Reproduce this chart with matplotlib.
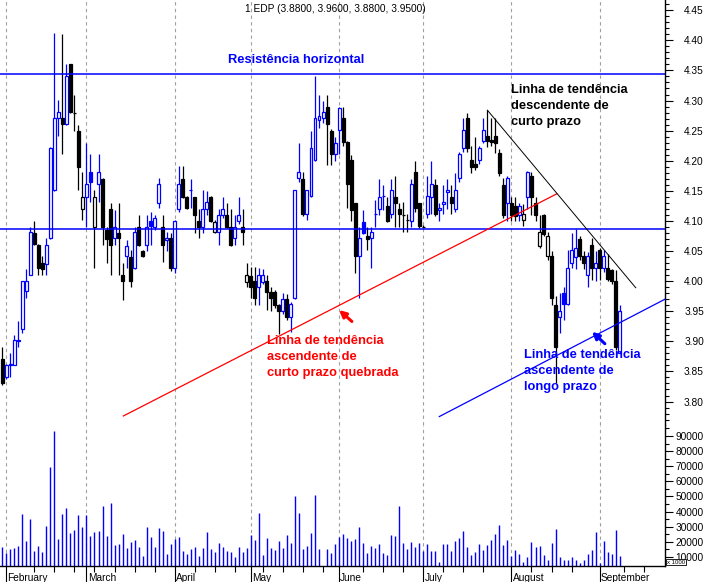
import numpy as np
import matplotlib
matplotlib.use('Agg')
import matplotlib.pyplot as plt
from matplotlib.patches import Rectangle
from matplotlib.ticker import MultipleLocator, FixedLocator

plt.rcParams['font.family'] = ['Liberation Sans', 'DejaVu Sans']

# daily OHLC (trading day index 0..154)
opens = [3.871, 3.840, 3.860, 3.861, 3.901, 3.920, 3.983, 4.011, 4.080, 4.060,
         4.030, 4.029, 4.071, 4.151, 4.271, 4.271, 4.261, 4.360, 4.282, 4.250,
         4.120, 4.140, 4.181, 4.090, 4.161, 4.170, 4.085, 4.119, 4.071, 4.080,
         4.010, 4.041, 4.040, 4.021, 4.090, 4.050, 4.060, 4.100, 4.090, 4.130,
         4.090, 4.068, 4.071, 4.021, 4.119, 4.169, 4.140, 4.150, 4.139, 4.100,
         4.090, 4.119, 4.140, 4.081, 4.081, 4.110, 4.110, 4.090, 4.071, 4.100,
         4.090, 3.999, 4.009, 4.000, 3.991, 3.999, 4.000, 3.982, 3.982, 3.960,
         3.951, 3.970, 3.941, 3.972, 4.171, 4.170, 4.111, 4.141, 4.201, 4.268,
         4.271, 4.289, 4.250, 4.211, 4.251, 4.271, 4.231, 4.201, 4.129, 4.041,
         4.099, 4.075, 4.071, 4.110, 4.119, 4.139, 4.124, 4.111, 4.140, 4.120,
         4.112, 4.104, 4.100, 4.181, 4.129, 4.092, 4.111, 4.140, 4.160, 4.118,
         4.128, 4.148, 4.140, 4.119, 4.171, 4.221, 4.271, 4.201, 4.195, 4.201,
         4.232, 4.241, 4.235, 4.241, 4.213, 4.160, 4.130, 4.130, 4.125, 4.110,
         4.102, 4.140, 4.175, 4.129, 4.059, 4.110, 4.041, 4.041, 3.960, 3.941,
         3.980, 3.962, 4.030, 4.040, 4.070, 4.041, 4.010, 4.060, 4.021, 4.052,
         4.021, 4.021, 4.018, 4.000, 3.880]
highs = [3.891, 3.862, 3.881, 3.911, 3.933, 4.001, 4.020, 4.090, 4.100, 4.061,
         4.041, 4.071, 4.222, 4.412, 4.301, 4.410, 4.360, 4.361, 4.309, 4.259,
         4.182, 4.229, 4.211, 4.151, 4.211, 4.171, 4.090, 4.129, 4.118, 4.129,
         4.030, 4.068, 4.052, 4.090, 4.110, 4.052, 4.110, 4.115, 4.110, 4.171,
         4.110, 4.081, 4.080, 4.101, 4.191, 4.191, 4.141, 4.169, 4.140, 4.119,
         4.151, 4.150, 4.141, 4.101, 4.119, 4.140, 4.130, 4.119, 4.110, 4.140,
         4.119, 4.030, 4.024, 4.024, 4.021, 4.020, 4.010, 3.990, 3.985, 3.962,
         3.980, 3.978, 3.965, 4.152, 4.229, 4.181, 4.152, 4.250, 4.341, 4.309,
         4.300, 4.309, 4.252, 4.240, 4.290, 4.290, 4.232, 4.210, 4.130, 4.090,
         4.118, 4.090, 4.090, 4.135, 4.170, 4.160, 4.140, 4.170, 4.174, 4.130,
         4.132, 4.111, 4.170, 4.200, 4.130, 4.093, 4.175, 4.200, 4.170, 4.129,
         4.160, 4.170, 4.160, 4.180, 4.215, 4.271, 4.279, 4.225, 4.240, 4.225,
         4.271, 4.284, 4.271, 4.271, 4.220, 4.171, 4.175, 4.140, 4.140, 4.130,
         4.128, 4.183, 4.182, 4.140, 4.110, 4.112, 4.081, 4.050, 3.975, 3.980,
         3.990, 4.052, 4.080, 4.087, 4.075, 4.050, 4.049, 4.072, 4.050, 4.055,
         4.052, 4.045, 4.020, 4.018, 3.960]
lows = [3.828, 3.838, 3.841, 3.860, 3.891, 3.913, 3.972, 4.010, 4.060, 4.011,
        4.011, 4.011, 4.070, 4.150, 4.241, 4.212, 4.260, 4.280, 4.249, 4.151,
        4.102, 4.090, 4.132, 4.022, 4.132, 4.060, 4.030, 4.010, 4.060, 4.010,
        3.969, 4.021, 3.991, 4.020, 4.058, 4.040, 4.050, 4.060, 4.085, 4.121,
        4.032, 4.050, 4.016, 4.013, 4.115, 4.138, 4.120, 4.121, 4.080, 4.071,
        4.080, 4.110, 4.099, 4.080, 4.060, 4.105, 4.088, 4.058, 4.060, 4.095,
        4.060, 3.991, 3.972, 3.960, 3.960, 3.995, 3.952, 3.950, 3.955, 3.912,
        3.945, 3.935, 3.916, 3.970, 4.165, 4.108, 4.102, 4.140, 4.200, 4.254,
        4.262, 4.193, 4.193, 4.200, 4.212, 4.225, 4.121, 4.100, 4.013, 3.972,
        4.079, 4.052, 4.021, 4.090, 4.110, 4.118, 4.099, 4.105, 4.090, 4.090,
        4.082, 4.082, 4.090, 4.115, 4.088, 4.088, 4.105, 4.112, 4.108, 4.100,
        4.111, 4.120, 4.111, 4.115, 4.165, 4.215, 4.215, 4.180, 4.185, 4.195,
        4.230, 4.223, 4.225, 4.213, 4.175, 4.105, 4.100, 4.100, 4.100, 4.100,
        4.092, 4.120, 4.110, 4.100, 4.055, 4.075, 4.035, 3.960, 3.831, 3.913,
        3.935, 3.960, 4.021, 4.020, 4.035, 4.020, 3.990, 4.002, 4.000, 4.002,
        4.015, 4.000, 3.995, 3.885, 3.880]
closes = [3.831, 3.861, 3.862, 3.902, 3.903, 4.000, 4.001, 4.081, 4.061, 4.021,
          4.020, 4.060, 4.221, 4.271, 4.281, 4.261, 4.340, 4.281, 4.280, 4.190,
          4.140, 4.161, 4.165, 4.140, 4.181, 4.090, 4.070, 4.060, 4.090, 4.071,
          4.001, 4.059, 4.001, 4.081, 4.060, 4.041, 4.090, 4.092, 4.105, 4.161,
          4.060, 4.071, 4.021, 4.100, 4.161, 4.140, 4.121, 4.151, 4.110, 4.090,
          4.119, 4.131, 4.100, 4.098, 4.110, 4.119, 4.090, 4.060, 4.090, 4.110,
          4.081, 4.011, 3.991, 3.972, 4.010, 4.011, 3.982, 3.972, 3.960, 3.951,
          3.970, 3.941, 3.962, 4.151, 4.181, 4.111, 4.151, 4.221, 4.271, 4.275,
          4.281, 4.261, 4.211, 4.230, 4.288, 4.231, 4.161, 4.118, 4.041, 4.071,
          4.080, 4.070, 4.081, 4.112, 4.140, 4.141, 4.100, 4.151, 4.130, 4.111,
          4.110, 4.102, 4.161, 4.121, 4.091, 4.090, 4.141, 4.161, 4.111, 4.121,
          4.131, 4.151, 4.130, 4.151, 4.211, 4.251, 4.221, 4.190, 4.189, 4.221,
          4.251, 4.232, 4.231, 4.230, 4.179, 4.110, 4.171, 4.110, 4.108, 4.125,
          4.111, 4.182, 4.140, 4.110, 4.081, 4.078, 4.075, 3.972, 3.891, 3.950,
          3.962, 4.021, 4.052, 4.055, 4.041, 4.030, 4.041, 4.021, 4.030, 4.021,
          4.041, 4.003, 4.000, 3.890, 3.950]
volumes = [16700, 12700, 15400, 16000, 17300, 38500, 20700, 35200, 14000, 17100,
           13400, 30600, 69700, 93500, 22000, 38500, 42500, 26000, 28000, 37700,
           29700, 37700, 24000, 26600, 27300, 43800, 24000, 45800, 18000, 18700,
           25300, 16000, 19800, 21300, 16700, 10700, 29900, 23300, 16700, 29300,
           27300, 12000, 18700, 21800, 23300, 14000, 12000, 15400, 16200, 10700,
           16000, 26600, 15400, 13400, 19300, 16700, 14000, 13400, 10100, 16700,
           13400, 16000, 24600, 21300, 39200, 11400, 22600, 16000, 14700, 20700,
           16000, 24600, 19300, 50500, 39200, 15400, 17300, 26000, 51100, 15400,
           3000, 15400, 12700, 18700, 23300, 25300, 22600, 20700, 22000, 29900,
           19300, 12700, 17300, 16000, 18700, 12700, 11400, 24600, 24000, 43800,
           19300, 15400, 20000, 16700, 19300, 14000, 18700, 14000, 14000, 6800,
           18700, 18700, 14000, 20700, 22600, 27300, 16700, 11400, 13400, 18700,
           14700, 18000, 21300, 25300, 31300, 18000, 21300, 10700, 14700, 12000,
           6800, 10100, 20000, 16700, 17300, 11400, 8100, 19300, 28600, 10100,
           8100, 8100, 10100, 8100, 6100, 8100, 12000, 14700, 26600, 6100,
           20700, 13400, 12000, 27900, 10700]

months = ['February', 'March', 'April', 'May', 'June', 'July', 'August', 'September']
month_start = [1, 21, 43, 62, 84, 105, 127, 149]
week_ticks = [8, 13, 18, 23, 28, 33, 38, 48, 53, 58, 65, 70, 75, 80, 90, 95, 100,
              110, 115, 120, 132, 137, 142, 155, 160]

resistance = 4.344
support = 4.086
red_x, red_y = [30.2, 138.3], [3.776, 4.145]
black_x, black_y = [121.0, 158.0], [4.284, 3.989]
blue_x, blue_y = [109.0, 165.3], [3.775, 3.970]

BLUE = '#0000ff'
W, H = 707, 582
fig = plt.figure(figsize=(W / 100, H / 100), dpi=100)
ax = fig.add_axes([0, 1 - 425 / H, 665 / W, 425 / H])
axv = fig.add_axes([0, (H - 565.7) / H, 665 / W, (565.7 - 425) / H])

xlim = (-0.57, 165.3)
idx = np.arange(len(closes))

for a in (ax, axv):
    a.set_xlim(*xlim)
    for s in ('left', 'top'):
        a.spines[s].set_visible(False)
    a.spines['right'].set_linewidth(1.0)
    for m in month_start:
        a.axvline(m, color='#a0a0a0', lw=0.8, ls=(0, (3, 3)), zorder=0)
    a.yaxis.tick_right()
    a.tick_params(axis='y', which='major', direction='out', length=6, width=0.8,
                  labelsize=7.3, pad=22)
    a.tick_params(axis='y', which='minor', direction='out', length=3, width=0.8)

ax.spines['bottom'].set_visible(False)
ax.set_xticks([])

# candles
for i in idx:
    o, h, l, c = opens[i], highs[i], lows[i], closes[i]
    prev = closes[i - 1] if i > 0 else o
    col = BLUE if c >= prev else 'black'
    ax.vlines(i, l, h, color=col, lw=0.9, zorder=2)
    lo, hi = min(o, c), max(o, c)
    if hi - lo < 0.002:
        ax.hlines(c, i - 0.4, i + 0.4, color=col, lw=0.9, zorder=3)
    else:
        fc = 'white' if c > o else col
        ax.add_patch(Rectangle((i - 0.37, lo), 0.74, hi - lo, facecolor=fc,
                               edgecolor=col, lw=0.9, zorder=3))

ax.axhline(resistance, color=BLUE, lw=1.1, zorder=4)
ax.axhline(support, color=BLUE, lw=1.1, zorder=4)
ax.plot(red_x, red_y, color='#ff0000', lw=0.9, zorder=5)
ax.plot(black_x, black_y, color='black', lw=0.7, zorder=5)
ax.plot(blue_x, blue_y, color=BLUE, lw=0.9, zorder=5, clip_on=False)

ax.set_ylim(3.761, 4.467)
ax.yaxis.set_major_locator(FixedLocator(np.round(np.arange(3.80, 4.451, 0.05), 2)))
ax.yaxis.set_minor_locator(MultipleLocator(0.01))
ax.set_yticklabels(['%.2f' % v for v in np.arange(3.80, 4.451, 0.05)])

bold = dict(fontsize=9.3, fontweight='bold', linespacing=1.45)
ax.text(56.3, 4.367, 'Resistência horizontal', color=BLUE, va='center', **bold)
ax.text(126.9, 4.327, 'Linha de tendência\ndescendente de\ncurto prazo',
        color='black', va='top', **bold)
ax.text(66.0, 3.910, 'Linha de tendência\nascendente de\ncurto prazo quebrada',
        color='#ff0000', va='top', **bold)
ax.text(130.1, 3.887, 'Linha de tendência\nascendente de\nlongo prazo',
        color=BLUE, va='top', **bold)
ax.annotate('', xy=(84.0, 3.952), xytext=(87.2, 3.933),
            arrowprops=dict(arrowstyle='-|>', color='#ff0000', lw=2.2,
                            mutation_scale=10, shrinkA=0, shrinkB=0), zorder=6)
ax.annotate('', xy=(147.1, 3.916), xytext=(150.3, 3.896),
            arrowprops=dict(arrowstyle='-|>', color=BLUE, lw=2.2,
                            mutation_scale=10, shrinkA=0, shrinkB=0), zorder=6)

# volume
axv.vlines(idx, 0, volumes, color=BLUE, lw=1.0, zorder=2)
axv.set_ylim(4100, 97300)
axv.yaxis.set_major_locator(FixedLocator(np.arange(10000, 90001, 10000)))
axv.yaxis.set_minor_locator(MultipleLocator(5000))
axv.set_yticklabels(['%d' % v for v in np.arange(10000, 90001, 10000)])
axv.spines['bottom'].set_linewidth(1.0)
axv.set_xticks(month_start)
axv.set_xticklabels([])
axv.set_xticks(week_ticks, minor=True)
axv.tick_params(axis='x', which='major', direction='out', length=12, width=0.8)
axv.tick_params(axis='x', which='minor', direction='out', length=4, width=0.8)
for m, name in zip(month_start, months):
    axv.text(m + 0.3, -0.05, name, transform=axv.get_xaxis_transform(),
             fontsize=7.3, ha='left', va='top', clip_on=False)

for a in (ax, axv):
    for t in a.get_yticklabels():
        t.set_horizontalalignment('right')

fig.text(245 / W, 1 - 9 / H, '1 EDP (3.8800, 3.9600, 3.8800, 3.9500)',
         fontsize=7.3, ha='left', va='center')
fig.text(667 / W, 1 - 562 / H, 'x 1000', fontsize=4.3, ha='left', va='center',
         zorder=10, bbox=dict(boxstyle='square,pad=0.15', fc='white', ec='black', lw=0.6))

fig.savefig('out.png', dpi=100)
